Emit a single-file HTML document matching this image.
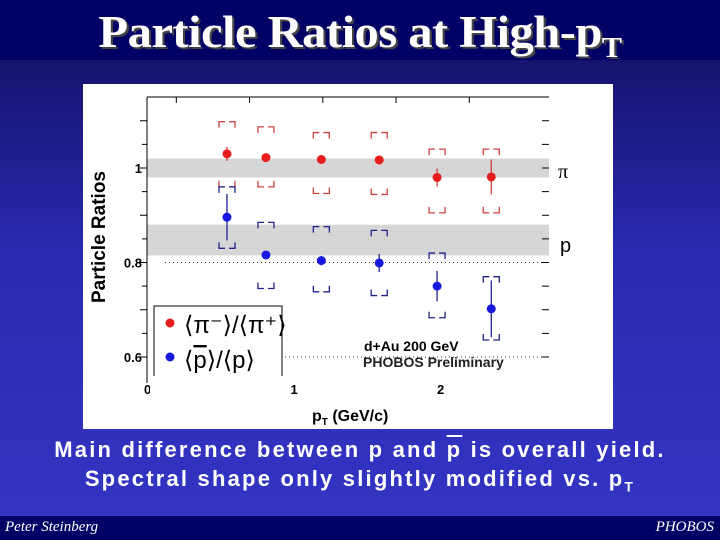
<!DOCTYPE html>
<html><head><meta charset="utf-8"><style>
body{margin:0;width:720px;height:540px;overflow:hidden;position:relative;background:linear-gradient(#16136e 60px,#2a2ab0 250px,#3535c6 540px);font-family:"Liberation Sans",sans-serif}
#tb{position:absolute;left:0;top:0;width:720px;height:60px;background:#020266}
#title{position:absolute;left:0;top:6px;width:720px;text-align:center;color:#fff;font:bold 45px "Liberation Serif",serif;text-shadow:2px 2px 0 #444;letter-spacing:-0.5px;transform:scaleX(1.08)}
#foot{position:absolute;left:0;top:516px;width:720px;height:24px;background:#020266;color:#fff;font:italic 15px "Liberation Serif",serif}
.cap{position:absolute;left:0;width:720px;text-align:center;color:#fff;font:bold 22px "Liberation Sans",sans-serif;letter-spacing:2.2px}
</style></head><body>
<div id="tb"></div>
<div id="title">Particle Ratios at High-p<sub style="font-size:28px">T</sub></div>
<svg width="720" height="540" style="position:absolute;left:0;top:0">
<rect x="83" y="84" width="530" height="345" fill="#fff"/>
<g id="g"></g>
</svg>
<div class="cap" style="top:437px">Main difference between p and <span style="text-decoration:overline">p</span> is overall yield.</div>
<div class="cap" style="top:466px">Spectral shape only slightly modified vs. p<sub style="font-size:14px">T</sub></div>
<div id="foot"><span style="position:absolute;left:5px;top:3px">Peter Steinberg</span><span style="position:absolute;right:6px;top:3px">PHOBOS</span></div>
<script>
const pt=[0.546,0.812,1.19,1.585,1.98,2.35];
const piVal=[1.03,1.022,1.018,1.017,0.98,0.981];
const piErr=[0.015,0.005,0.005,0.006,0.019,0.037];
const piSysHi=[1.098,1.087,1.075,1.075,1.04,1.04];
const piSysLo=[0.96,0.96,0.946,0.944,0.905,0.905];
const pVal=[0.896,0.816,0.804,0.799,0.75,0.702];
const pErr=[0.049,0.008,0.01,0.019,0.032,0.06];
const pSysHi=[0.96,0.885,0.876,0.868,0.82,0.77];
const pSysLo=[0.83,0.745,0.738,0.73,0.683,0.636];
const yTicks=[0.6,0.8,1];
const xTicks=[0,1,2];
const X=v=>147+v*146.5, Y=v=>168+(1-v)*472.5;
const g=document.getElementById('g');const NS='http://www.w3.org/2000/svg';
function mk(t,a,name){const e=document.createElementNS(NS,t);for(const k in a)e.setAttribute(k,a[k]);


g.appendChild(e);return e;}
mk('rect',{x:147,y:Y(1.02),width:402,height:Y(0.98)-Y(1.02),fill:'#d6d6d6'},'pion-band');
mk('rect',{x:147,y:Y(0.88),width:402,height:Y(0.815)-Y(0.88),fill:'#d6d6d6'},'proton-band');
[0.8,0.6].forEach(v=>mk('line',{x1:165,x2:549,y1:Y(v),y2:Y(v),stroke:'#333','stroke-dasharray':'1,3'},'dotted-line'));
mk('line',{x1:147,x2:147,y1:97,y2:383,stroke:'#000'},'y-axis');
mk('line',{x1:147,x2:549,y1:97,y2:97,stroke:'#000'},'top-axis');
for(let v=0.6;v<=1.101;v+=0.05){const maj=Math.abs(v*10-Math.round(v*10))<0.01;
mk('line',{x1:maj?140:142,x2:147,y1:Y(v),y2:Y(v),stroke:'#000'},'y-tick');
mk('line',{x1:542,x2:549,y1:Y(v),y2:Y(v),stroke:'#000'},'right-tick');}
for(let v=0.2;v<2.7;v+=0.5){mk('line',{x1:X(v),x2:X(v),y1:97,y2:103,stroke:'#000'},'top-tick');}
yTicks.forEach(v=>{const t=mk('text',{x:142,y:Y(v)+5,'text-anchor':'end','font-size':13,'font-weight':'bold','font-family':'Liberation Sans'},'y-tick-label');t.textContent=String(v);});
xTicks.forEach(v=>{const t=mk('text',{x:X(v)-3,y:394,'font-size':13,'font-weight':'bold','font-family':'Liberation Sans'},'x-tick-label');t.textContent=String(v);});
const yt=mk('text',{x:105,y:237,'text-anchor':'middle','font-size':19,'font-weight':'bold','font-family':'Liberation Sans',transform:'rotate(-90 105 237)'},'y-axis-title');yt.textContent='Particle Ratios';
const xt=mk('text',{x:312,y:421,'font-size':16,'font-weight':'bold','font-family':'Liberation Sans'},'x-axis-title');xt.innerHTML='p<tspan font-size="10" dy="4">T</tspan><tspan dy="-4"> (GeV/c)</tspan>';
function series(vals,errs,hi,lo,col,scol,name){
 pt.forEach((p,i)=>{const x=X(p);
  [hi[i],lo[i]].forEach((s,k)=>{const y=Y(s),d=k?-6:6;
   mk('path',{d:`M${x-8} ${y+d}V${y}H${x-2}M${x+2} ${y}H${x+8}V${y+d}`,fill:'none',stroke:scol,'stroke-width':1.3},name+'-sys');});
  mk('line',{x1:x,x2:x,y1:Y(vals[i]+errs[i]),y2:Y(vals[i]-errs[i]),stroke:scol,'stroke-width':1.3},name+'-err');
  mk('circle',{cx:x,cy:Y(vals[i]),r:4.5,fill:col},name+'-point');});}
series(piVal,piErr,piSysHi,piSysLo,'#e81c1c','#d04040','pion-ratio');
series(pVal,pErr,pSysHi,pSysLo,'#1818e0','#202090','proton-ratio');
mk('rect',{x:154,y:306,width:128,height:85,fill:'#fff',stroke:'#000'},'legend-box');
mk('rect',{x:150,y:376,width:140,height:18,fill:'#fff'},'legend-clip');
mk('circle',{cx:170,cy:323,r:4.5,fill:'#e81c1c'},'legend-marker-pion');
mk('circle',{cx:170,cy:357,r:4.5,fill:'#1818e0'},'legend-marker-proton');
const l1=mk('text',{x:184,y:333,'font-size':24,'font-family':'Liberation Sans'},'legend-label-pion');l1.textContent='⟨π⁻⟩/⟨π⁺⟩';
const l2=mk('text',{x:184,y:368,'font-size':24,'font-family':'Liberation Sans'},'legend-label-proton');l2.innerHTML='⟨<tspan text-decoration="overline">p</tspan>⟩/⟨p⟩';
const a1=mk('text',{x:364,y:351,'font-size':14,'font-weight':'bold','font-family':'Liberation Sans'},'annotation-system');a1.textContent='d+Au 200 GeV';
const a2=mk('text',{x:363,y:367,'font-size':14,'font-weight':'bold','font-family':'Liberation Sans',fill:'#222'},'annotation-prelim');a2.textContent='PHOBOS Preliminary';
const s1=mk('text',{x:558,y:178,'font-size':20,'font-family':'Liberation Serif'},'pion-label');s1.textContent='π';
const s2=mk('text',{x:560,y:252,'font-size':20,'font-family':'Liberation Sans'},'proton-label');s2.textContent='p';
</script>
</body></html>
